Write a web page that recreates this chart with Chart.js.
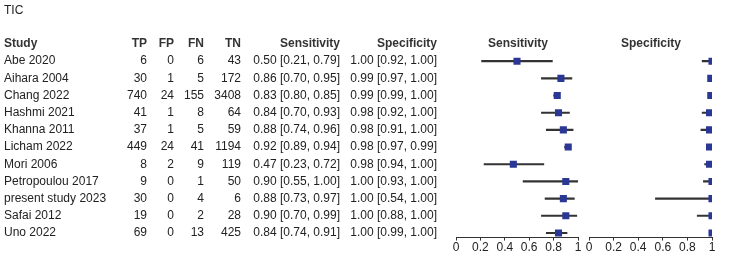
<!DOCTYPE html>
<html>
<head>
<meta charset="utf-8">
<script src="https://cdn.jsdelivr.net/npm/chart.js@4/dist/chart.umd.min.js"></script>
<style>
  html, body { margin: 0; padding: 0; background: #ffffff; }
  #wrap { position: relative; width: 737px; height: 255px; }
  #wrap canvas { position: absolute; left: 0; top: 0; }
</style>
</head>
<body>
<div id="wrap">
  <canvas id="sensChart" width="737" height="255"></canvas>
  <canvas id="specChart" width="737" height="255"></canvas>
</div>
<script>
// Data
const studies = ['Abe 2020', 'Aihara 2004', 'Chang 2022', 'Hashmi 2021', 'Khanna 2011', 'Licham 2022',
    'Mori 2006', 'Petropoulou 2017', 'present study 2023', 'Safai 2012', 'Uno 2022'];
const tp = [6, 30, 740, 41, 37, 449, 8, 9, 30, 19, 69];
const fp = [0, 1, 24, 1, 1, 24, 2, 0, 0, 0, 0];
const fn = [6, 5, 155, 8, 5, 41, 9, 1, 4, 2, 13];
const tn = [43, 172, 3408, 64, 59, 1194, 119, 50, 6, 28, 425];
const sens = [0.50, 0.86, 0.83, 0.84, 0.88, 0.92, 0.47, 0.90, 0.88, 0.90, 0.84];
const sensLo = [0.21, 0.70, 0.80, 0.70, 0.74, 0.89, 0.23, 0.55, 0.73, 0.70, 0.74];
const sensHi = [0.79, 0.95, 0.85, 0.93, 0.96, 0.94, 0.72, 1.00, 0.97, 0.99, 0.91];
const spec = [1.00, 0.99, 0.99, 0.98, 0.98, 0.98, 0.98, 1.00, 1.00, 1.00, 1.00];
const specLo = [0.92, 0.97, 0.99, 0.92, 0.91, 0.97, 0.94, 0.93, 0.54, 0.88, 0.99];
const specHi = [1.00, 1.00, 1.00, 1.00, 1.00, 0.99, 1.00, 1.00, 1.00, 1.00, 1.00];
const xTicks = [0, 0.2, 0.4, 0.6, 0.8, 1];

Chart.defaults.font.family = '"Liberation Sans", Arial, sans-serif';
Chart.defaults.font.size = 12;
Chart.defaults.color = '#222222';

const squareColor = '#2b3795';
const lineColor = '#333333';

function ci(v, lo, hi) {
    return v.toFixed(2) + ' [' + lo.toFixed(2) + ', ' + hi.toFixed(2) + ']';
}

// draws the study table to the left of the sensitivity panel
const tablePlugin = {
    id: 'studyTable',
    afterDraw(chart) {
        const ctx = chart.ctx;
        const y = chart.scales.y;
        ctx.save();
        ctx.textBaseline = 'middle';
        ctx.fillStyle = '#222222';
        ctx.font = '12px "Liberation Sans", Arial, sans-serif';
        ctx.textAlign = 'left';
        ctx.fillText('TIC', 4, 11);

        const hy = y.getPixelForValue(-1);
        ctx.font = 'bold 12px "Liberation Sans", Arial, sans-serif';
        ctx.fillStyle = '#333333';
        ctx.fillText('Study', 4, hy);
        ctx.textAlign = 'right';
        ctx.fillText('TP', 147, hy);
        ctx.fillText('FP', 174, hy);
        ctx.fillText('FN', 204, hy);
        ctx.fillText('TN', 241, hy);
        ctx.fillText('Sensitivity', 340, hy);
        ctx.fillText('Specificity', 437, hy);
        ctx.textAlign = 'center';
        ctx.fillText('Sensitivity', 518, hy);
        ctx.fillText('Specificity', 651, hy);

        ctx.font = '12px "Liberation Sans", Arial, sans-serif';
        ctx.fillStyle = '#222222';
        for (let i = 0; i < studies.length; i++) {
            const ry = y.getPixelForValue(i);
            ctx.textAlign = 'left';
            ctx.fillText(studies[i], 4, ry);
            ctx.textAlign = 'right';
            ctx.fillText(String(tp[i]), 147, ry);
            ctx.fillText(String(fp[i]), 174, ry);
            ctx.fillText(String(fn[i]), 204, ry);
            ctx.fillText(String(tn[i]), 241, ry);
            ctx.fillText(ci(sens[i], sensLo[i], sensHi[i]), 340, ry);
            ctx.fillText(ci(spec[i], specLo[i], specHi[i]), 437, ry);
        }
        ctx.restore();
    },
};

function forestChart(canvas, est, lo, hi, padding, plugins) {
    return new Chart(canvas, {
        type: 'scatter',
        data: {
            datasets: [
                {
                    type: 'scatter',
                    order: 0,
                    data: est.map((v, i) => ({ x: v, y: i })),
                    pointStyle: 'rect',
                    pointRadius: 5,
                    pointBackgroundColor: squareColor,
                    pointBorderColor: squareColor,
                    pointBorderWidth: 0,
                },
                {
                    type: 'bar',
                    order: 1,
                    indexAxis: 'y',
                    data: lo.map((v, i) => ({ x: [v, hi[i]], y: i })),
                    backgroundColor: lineColor,
                    borderWidth: 0,
                    barThickness: 1.5,
                },
            ],
        },
        options: {
            responsive: false,
            animation: false,
            devicePixelRatio: 1,
            layout: { padding: padding },
            plugins: {
                legend: { display: false },
                tooltip: { enabled: false },
            },
            scales: {
                x: {
                    type: 'linear',
                    position: 'bottom',
                    min: 0,
                    max: 1,
                    offset: false,
                    afterBuildTicks: (axis) => {
                        axis.ticks = xTicks.map((v) => ({ value: v }));
                    },
                    border: { display: true, color: lineColor, width: 1 },
                    grid: {
                        offset: false,
                        drawOnChartArea: false,
                        drawTicks: true,
                        tickLength: 3,
                        tickColor: lineColor,
                    },
                    ticks: {
                        padding: 0,
                        color: '#222222',
                        maxRotation: 0,
                        callback: (v) => String(v),
                    },
                },
                y: {
                    type: 'linear',
                    display: false,
                    offset: false,
                    reverse: true,
                    min: -1,
                    max: 10.27,
                },
            },
        },
        plugins: plugins,
    });
}

forestChart(document.getElementById('sensChart'), sens, sensLo, sensHi,
    { left: 456, right: 159, top: 44, bottom: 0 }, [tablePlugin]);
forestChart(document.getElementById('specChart'), spec, specLo, specHi,
    { left: 589, right: 25, top: 44, bottom: 0 }, []);
</script>
</body>
</html>
